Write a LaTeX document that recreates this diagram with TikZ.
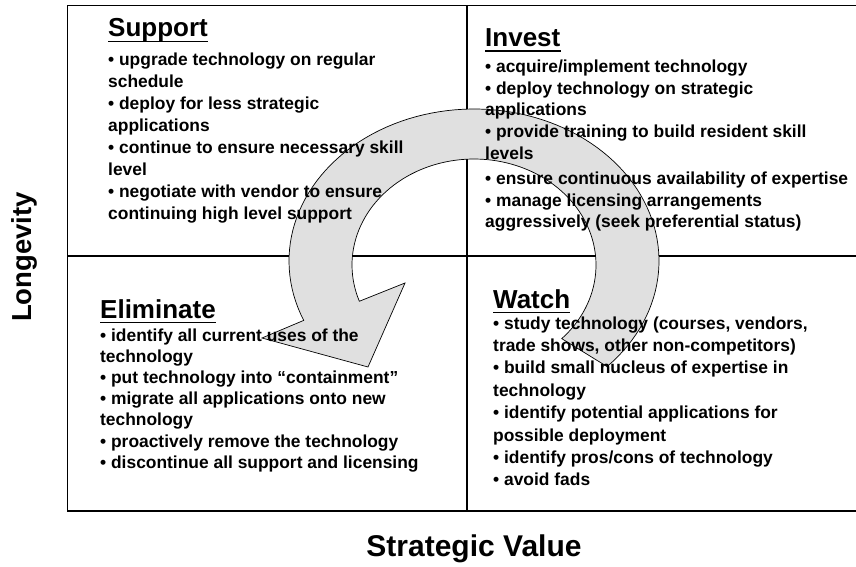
\documentclass[tikz,border=0pt]{standalone}
\usepackage{fontspec}
\setmainfont{Liberation Sans}
\tikzset{
  body/.style={anchor=base west, inner sep=0pt, font=\fontsize{17.4}{21}\selectfont\bfseries},
  head/.style={anchor=base west, inner sep=0pt, font=\fontsize{26}{30}\selectfont\bfseries},
  axislab/.style={inner sep=0pt, font=\fontsize{30}{34}\selectfont\bfseries},
  frame/.style={line width=1.4pt, black},
  band/.style={fill=black!12, draw=black, line width=0.7pt},
  uline/.style={line width=1.8pt, black}
}
\begin{document}
\begin{tikzpicture}[x=1pt, y=-1pt]
\useasboundingbox (0,0) rectangle (856,567);
% frame
\draw[frame] (860,5.5) -- (67.5,5.5) -- (67.5,511) -- (860,511);
\draw[frame] (67.5,256) -- (860,256);
\draw[frame] (467,5.5) -- (467,511);
% circular arrow
\filldraw[band] plot[domain=-44:203, samples=100] ({474+185*cos(\x)},{261-152*sin(\x)})
  -- (262,338) -- (368,367) -- (405,283)
  -- plot[domain=200:-44, samples=100] ({474+122*cos(\x)},{265-106*sin(\x)}) -- cycle;
% headings
\node[head] (hsup) at (108,37) {Support};
\node[head] (hinv) at (485,46.5) {Invest};
\node[head] (helim) at (100,318) {Eliminate};
\node[head] (hwat) at (493,308) {Watch};
\foreach \h in {hsup,hinv,helim,hwat}
  \draw[uline] ([yshift=-4.5pt]\h.base west) -- ([yshift=-4.5pt]\h.base east);
% bodies
\foreach \t [count=\i] in {{• upgrade technology on regular},{schedule},{• deploy for less strategic},{applications},{• continue to ensure necessary skill},{level},{• negotiate with vendor to ensure},{continuing high level support}}
  \node[body] (sup\i) at (108,{65.5+(\i-1)*22}) {\t};
\foreach \t [count=\i] in {{• acquire/implement technology},{• deploy technology on strategic},{applications},{• provide training to build resident skill},{levels}}
  \node[body] (inv\i) at (485,{72.3+(\i-1)*21.8}) {\t};
\foreach \t [count=\i from 6] in {{• ensure continuous availability of expertise},{• manage licensing arrangements},{aggressively (seek preferential status)}}
  \node[body] (inv\i) at (485,{75.3+(\i-1)*21.8}) {\t};
\foreach \t [count=\i] in {{• identify all current uses of the},{technology},{• put technology into “containment”},{• migrate all applications onto new},{technology},{• proactively remove the technology},{• discontinue all support and licensing}}
  \node[body] (elim\i) at (100,{341+(\i-1)*21.2}) {\t};
\foreach \t [count=\i] in {{• study technology (courses, vendors,},{trade shows, other non-competitors)},{• build small nucleus of expertise in},{technology},{• identify potential applications for},{possible deployment},{• identify pros/cons of technology},{• avoid fads}}
  \node[body] (wat\i) at (493,{329+(\i-1)*22.4}) {\t};
% axis labels
\node[axislab, rotate=90, font=\fontsize{27.5}{32}\selectfont\bfseries] (ylab) at (24,257) {Longevity};
\node[axislab, anchor=base] (xlab) at (474,556) {Strategic Value};
\end{tikzpicture}
\end{document}
